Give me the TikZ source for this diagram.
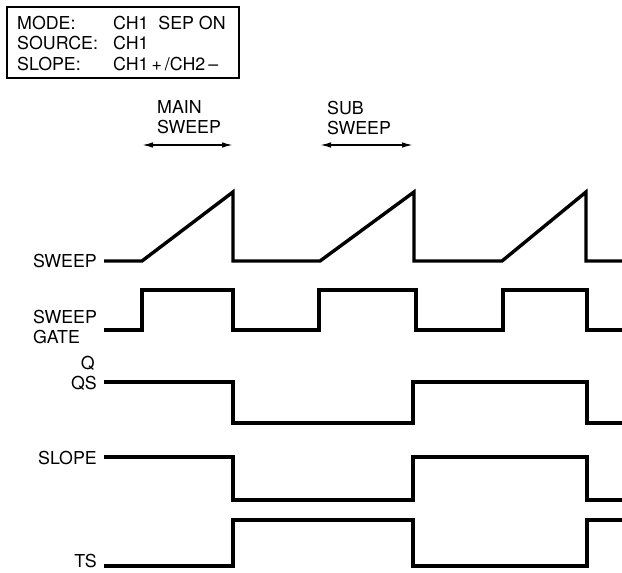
\documentclass[tikz,border=0pt]{standalone}
\usepackage{fontspec}
\setmainfont{TeX Gyre Heros}
\usetikzlibrary{arrows.meta}
\begin{document}
\begin{tikzpicture}[x=1pt,y=-1pt,
  lbl/.style={inner sep=0pt,font=\fontsize{17.8}{20}\selectfont},
  wave/.style={line width=3.4pt,line join=miter,line cap=butt},
  span/.style={line width=1.5pt,{Latex[length=11pt,width=5.5pt]}-{Latex[length=11pt,width=5.5pt]}}]
\useasboundingbox (0,0) rectangle (622,573);
% info box
\draw[line width=1.5pt] (7,7) rectangle (239,78);
\node[lbl,anchor=west] (m1) at (17,23) {MODE:};
\node[lbl,anchor=west] (m2) at (113,23) {CH1\hspace{0.55em}SEP ON};
\node[lbl,anchor=west] (s1) at (17,43.5) {SOURCE:};
\node[lbl,anchor=west] (s2) at (113,43.5) {CH1};
\node[lbl,anchor=west] (l1) at (17,64) {SLOPE:};
\node[lbl,anchor=west] (l2) at (113,64) {CH1\,+\,/CH2\,–};
% sweep spans
\node[lbl,anchor=west,align=left] (main) at (157,117) {MAIN\\SWEEP};
\node[lbl,anchor=west,align=left] (sub) at (327,118) {SUB\\SWEEP};
\coordinate (ma) at (142,145); \coordinate (mb) at (233,145);
\coordinate (sa) at (320,145); \coordinate (sb) at (413,145);
\draw[span] (ma) -- (mb);
\draw[span] (sa) -- (sb);
% labels
\node[lbl,anchor=east] (sweep) at (97,261) {SWEEP};
\node[lbl,anchor=west,align=left] (gate) at (33,327) {SWEEP\\GATE};
\node[lbl,anchor=east] (q) at (95,363) {Q};
\node[lbl,anchor=east] (qs) at (97,383) {QS};
\node[lbl,anchor=east] (slope) at (97,458) {SLOPE};
\node[lbl,anchor=east] (ts) at (97,561) {TS};
% waveforms
\draw[wave] (104,261) -- (142,261) -- (233,192) -- (233,261) -- (320,261) -- (414,192) -- (414,261) -- (502,261) -- (586,192) -- (586,261) -- (622,261);
\draw[wave] (104,330) -- (142,330) -- (142,290) -- (233,290) -- (233,330) -- (319,330) -- (319,290) -- (416,290) -- (416,330) -- (503,330) -- (503,290) -- (587,290) -- (587,330) -- (622,330);
\draw[wave] (104,382) -- (233,382) -- (233,423) -- (413,423) -- (413,382) -- (587,382) -- (587,423) -- (622,423);
\draw[wave] (104,457) -- (233,457) -- (233,500) -- (413,500) -- (413,457) -- (587,457) -- (587,500) -- (622,500);
\draw[wave] (104,566) -- (233,566) -- (233,520) -- (413,520) -- (413,566) -- (587,566) -- (587,520) -- (622,520);
\end{tikzpicture}
\end{document}
